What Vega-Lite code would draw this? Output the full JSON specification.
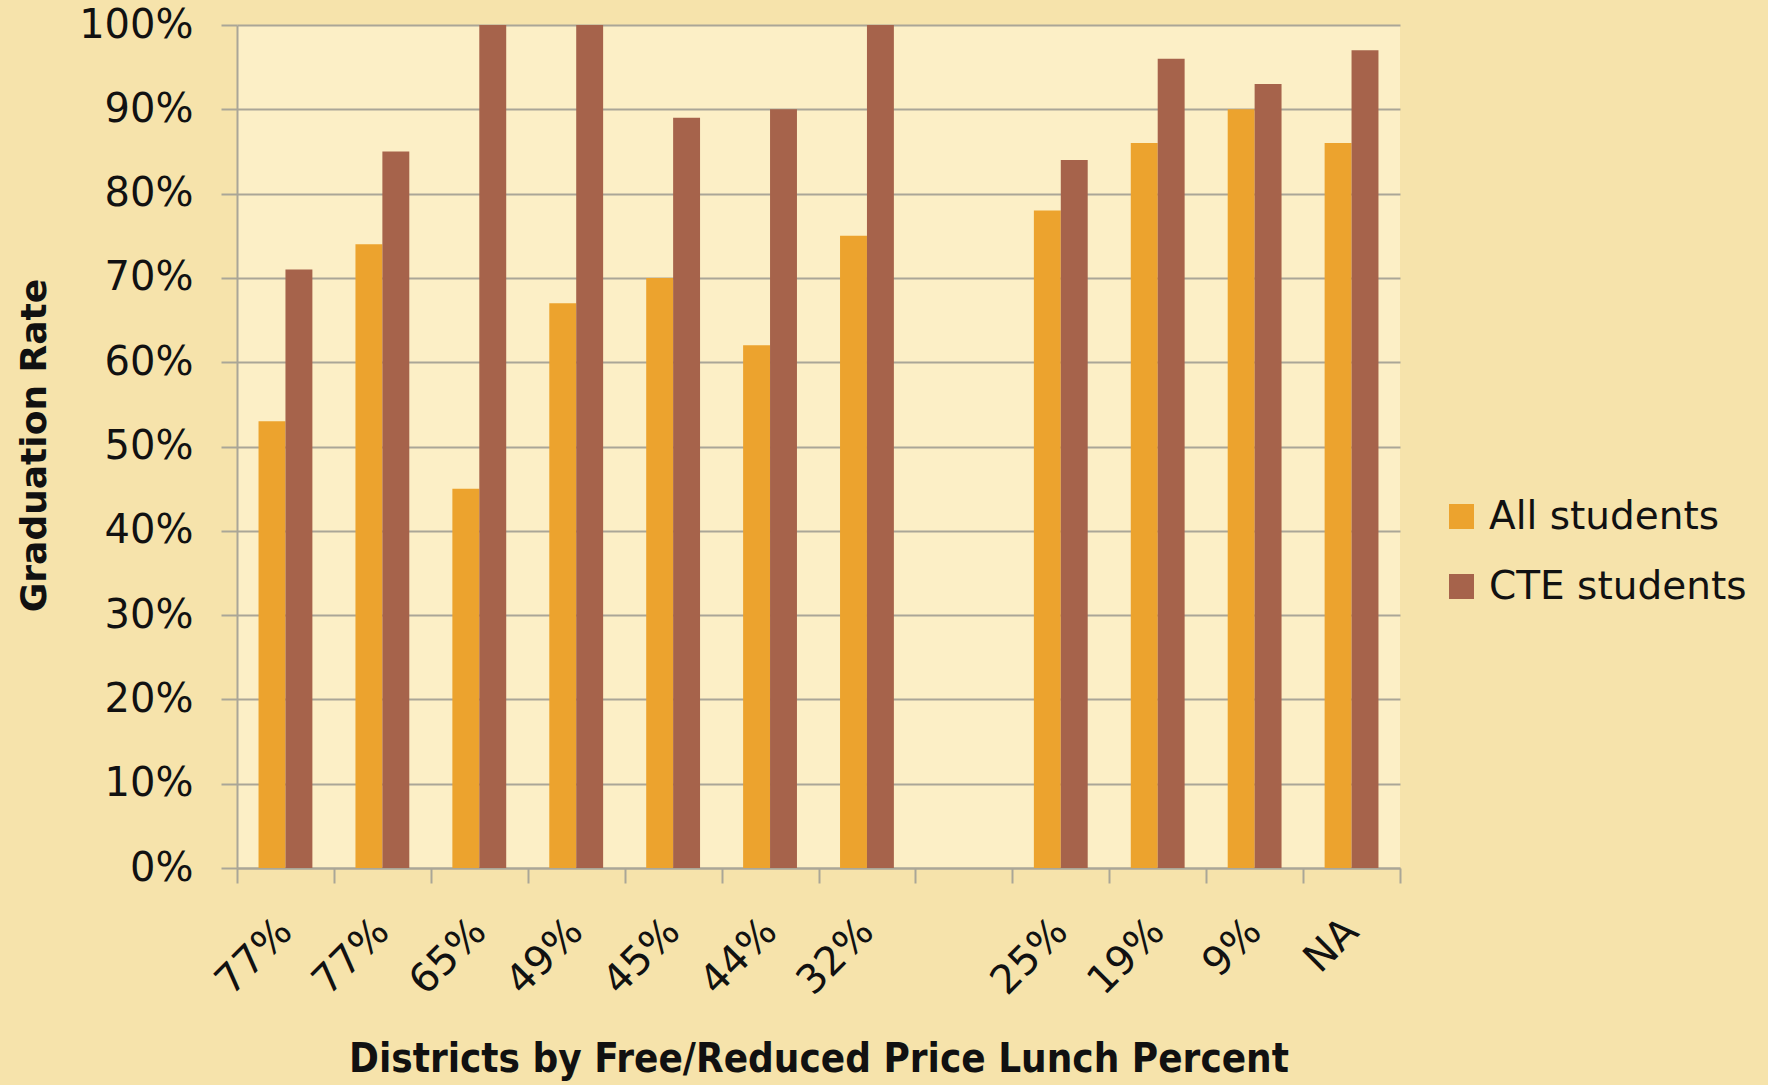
{
  "$schema": "https://vega.github.io/schema/vega-lite/v6.json",
  "autosize": {"type": "none"},
  "padding": {"left": 237, "top": 25, "right": 368, "bottom": 217},
  "width": 1163,
  "height": 843,
  "background": "#f6e3ab",
  "config": {
    "font": "DejaVu Sans",
    "view": {"fill": "#fcefc6", "stroke": null}
  },
  "data": {
    "values": [
      {"cat": "77%_1", "series": "All students", "rate": 0.53},
      {"cat": "77%_1", "series": "CTE students", "rate": 0.71},
      {"cat": "77%_2", "series": "All students", "rate": 0.74},
      {"cat": "77%_2", "series": "CTE students", "rate": 0.85},
      {"cat": "65%_3", "series": "All students", "rate": 0.45},
      {"cat": "65%_3", "series": "CTE students", "rate": 1.0},
      {"cat": "49%_4", "series": "All students", "rate": 0.67},
      {"cat": "49%_4", "series": "CTE students", "rate": 1.0},
      {"cat": "45%_5", "series": "All students", "rate": 0.70},
      {"cat": "45%_5", "series": "CTE students", "rate": 0.89},
      {"cat": "44%_6", "series": "All students", "rate": 0.62},
      {"cat": "44%_6", "series": "CTE students", "rate": 0.90},
      {"cat": "32%_7", "series": "All students", "rate": 0.75},
      {"cat": "32%_7", "series": "CTE students", "rate": 1.0},
      {"cat": "25%_9", "series": "All students", "rate": 0.78},
      {"cat": "25%_9", "series": "CTE students", "rate": 0.84},
      {"cat": "19%_10", "series": "All students", "rate": 0.86},
      {"cat": "19%_10", "series": "CTE students", "rate": 0.96},
      {"cat": "9%_11", "series": "All students", "rate": 0.90},
      {"cat": "9%_11", "series": "CTE students", "rate": 0.93},
      {"cat": "NA_12", "series": "All students", "rate": 0.86},
      {"cat": "NA_12", "series": "CTE students", "rate": 0.97}
    ]
  },
  "mark": {"type": "bar"},
  "encoding": {
    "x": {
      "field": "cat",
      "type": "nominal",
      "scale": {
        "domain": ["77%_1", "77%_2", "65%_3", "49%_4", "45%_5", "44%_6", "32%_7", "_8", "25%_9", "19%_10", "9%_11", "NA_12"],
        "paddingInner": 0,
        "paddingOuter": 0
      },
      "axis": {
        "title": "Districts by Free/Reduced Price Lunch Percent",
        "titleFont": "DejaVu Sans Condensed",
        "titleFontSize": 40,
        "titleFontWeight": "bold",
        "titleColor": "#111111",
        "titleY": 203,
        "titleBaseline": "alphabetic",
        "labelExpr": "isString(datum.value) ? split(datum.value, '_')[0] : ''",
        "labelAngle": -45,
        "labelAlign": "right",
        "labelBaseline": "middle",
        "labelFontSize": 40,
        "labelColor": "#111111",
        "labelPadding": 42,
        "tickBand": "extent",
        "tickSize": 15,
        "tickColor": "#aaa697",
        "tickWidth": 2,
        "domainColor": "#aaa697",
        "domainWidth": 2,
        "grid": false
      }
    },
    "xOffset": {
      "field": "series",
      "type": "nominal",
      "sort": ["All students", "CTE students"],
      "scale": {"paddingInner": 0, "paddingOuter": 0.8}
    },
    "y": {
      "field": "rate",
      "type": "quantitative",
      "scale": {"domain": [0, 1], "nice": false},
      "axis": {
        "title": "Graduation Rate",
        "titleFontSize": 36,
        "titleFontWeight": "bold",
        "titleColor": "#111111",
        "titleAngle": -90,
        "titleX": -192,
        "titleY": 420,
        "titleAlign": "center",
        "titleBaseline": "alphabetic",
        "values": [0, 0.1, 0.2, 0.3, 0.4, 0.5, 0.6, 0.7, 0.8, 0.9, 1.0],
        "format": ".0%",
        "labelFontSize": 40,
        "labelColor": "#111111",
        "labelPadding": 28,
        "tickSize": 16,
        "tickColor": "#aaa697",
        "tickWidth": 2,
        "domainColor": "#aaa697",
        "domainWidth": 2,
        "gridColor": "#aaa697",
        "gridWidth": 2
      }
    },
    "color": {
      "field": "series",
      "type": "nominal",
      "scale": {"domain": ["All students", "CTE students"], "range": ["#eca32e", "#a6634b"]},
      "legend": {
        "title": null,
        "orient": "none",
        "legendX": 1205,
        "legendY": 472,
        "symbolType": "square",
        "symbolSize": 625,
        "symbolStrokeWidth": 0,
        "labelFontSize": 39,
        "labelColor": "#111111",
        "labelOffset": 8,
        "labelLimit": 500,
        "rowPadding": 30
      }
    }
  }
}
